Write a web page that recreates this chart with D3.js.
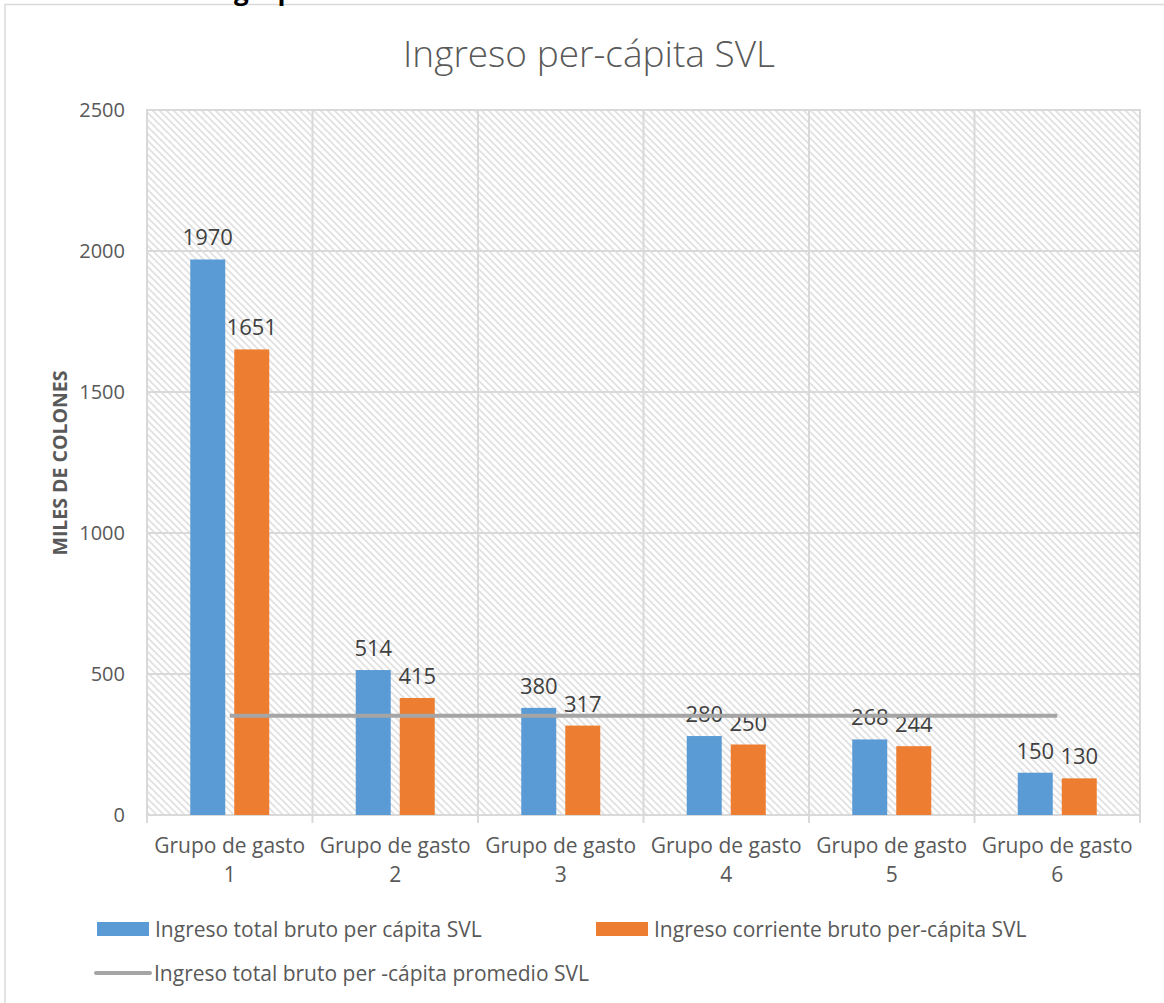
<!DOCTYPE html>
<html>
<head>
<meta charset="utf-8">
<script src="https://cdn.jsdelivr.net/npm/d3@7"></script>
<style>
  body { margin: 0; background: #fff; }
  svg { display: block; font-family: 'Open Sans', sans-serif; }
</style>
</head>
<body>
<svg id="chart" width="1164" height="1003"></svg>
<script>
// data
const categories = ['Grupo de gasto 1', 'Grupo de gasto 2', 'Grupo de gasto 3', 'Grupo de gasto 4', 'Grupo de gasto 5', 'Grupo de gasto 6'];
const seriesNames = ['Ingreso total bruto per cápita SVL', 'Ingreso corriente bruto per-cápita SVL'];
const totalBruto = [1970, 514, 380, 280, 268, 150];
const corrienteBruto = [1651, 415, 317, 250, 244, 130];
const promedioName = 'Ingreso total bruto per -cápita promedio SVL';
const promedio = [352, 352, 352, 352, 352, 352];
const yTicks = [0, 500, 1000, 1500, 2000, 2500];

const colors = ['#5B9BD5', '#ED7D31'];
const lineColor = '#A5A5A5';
const gridColor = '#D9D9D9';
const textColor = '#595959';

const svg = d3.select('#chart');
const plot = {left: 147, right: 1140, top: 110, bottom: 815};

// hatch pattern
const defs = svg.append('defs');
defs.append('pattern')
    .attr('id', 'hatch')
    .attr('patternUnits', 'userSpaceOnUse')
    .attr('width', 7).attr('height', 7)
    .call(p => {
        p.append('rect').attr('width', 7).attr('height', 7).attr('fill', '#fff');
        p.append('path')
            .attr('d', 'M-1,-1 L8,8 M-1,6 L1,8 M6,-1 L8,1')
            .attr('stroke', '#E0E0E0')
            .attr('stroke-width', 1.6);
    });

// outer border + cut-off heading above
svg.append('rect')
    .attr('x', 5).attr('y', 4.5)
    .attr('width', 1170).attr('height', 1010)
    .attr('fill', 'none')
    .attr('stroke', gridColor)
    .attr('stroke-width', 1.5);

svg.append('text')
    .attr('x', 234).attr('y', 0)
    .attr('font-size', 26).attr('font-weight', 'bold')
    .attr('fill', '#000')
    .text('grupo');

const x = d3.scaleBand()
    .domain(categories)
    .range([plot.left, plot.right]);

const y = d3.scaleLinear()
    .domain([0, 2500])
    .range([plot.bottom, plot.top]);

const xs = d3.scaleBand()
    .domain([0, 1])
    .range([-39.5, 39.5])
    .paddingInner(9 / 44);

// plot background
svg.append('rect')
    .attr('x', plot.left).attr('y', plot.top)
    .attr('width', plot.right - plot.left)
    .attr('height', plot.bottom - plot.top)
    .attr('fill', 'url(#hatch)')
    .attr('stroke', gridColor)
    .attr('stroke-width', 2);

// horizontal grid
svg.append('g')
    .selectAll('line')
    .data(yTicks)
    .join('line')
    .attr('x1', plot.left).attr('x2', plot.right)
    .attr('y1', d => y(d)).attr('y2', d => y(d))
    .attr('stroke', gridColor)
    .attr('stroke-width', 2);

// vertical category dividers (+ tick below axis)
svg.append('g')
    .selectAll('line')
    .data(categories.concat(['end']))
    .join('line')
    .attr('x1', (d, i) => plot.left + i * x.step())
    .attr('x2', (d, i) => plot.left + i * x.step())
    .attr('y1', plot.top).attr('y2', plot.bottom + 8)
    .attr('stroke', gridColor)
    .attr('stroke-width', 2);

// y tick labels
svg.append('g')
    .selectAll('text')
    .data(yTicks)
    .join('text')
    .attr('x', 125)
    .attr('y', d => y(d) + 7)
    .attr('text-anchor', 'end')
    .attr('font-size', 20)
    .attr('fill', textColor)
    .text(d => d);

// y axis title
svg.append('text')
    .attr('transform', 'translate(67,463) rotate(-90)')
    .attr('text-anchor', 'middle')
    .attr('font-size', 19.5)
    .attr('font-weight', 'bold')
    .attr('fill', textColor)
    .text('MILES DE COLONES');

// bars
const series = [totalBruto, corrienteBruto];
const groups = svg.append('g')
    .selectAll('g')
    .data(categories)
    .join('g')
    .attr('transform', d => `translate(${x(d) + x.bandwidth() / 2},0)`);

groups.selectAll('rect')
    .data((d, i) => series.map((s, k) => ({k, v: s[i]})))
    .join('rect')
    .attr('x', d => xs(d.k))
    .attr('width', xs.bandwidth())
    .attr('y', d => y(d.v))
    .attr('height', d => y(0) - y(d.v))
    .attr('fill', d => colors[d.k]);

groups.selectAll('text.lbl')
    .data((d, i) => series.map((s, k) => ({k, v: s[i]})))
    .join('text')
    .attr('class', 'lbl')
    .attr('x', d => xs(d.k) + xs.bandwidth() / 2)
    .attr('y', d => y(d.v) - 14)
    .attr('text-anchor', 'middle')
    .attr('font-size', 22)
    .attr('fill', '#404040')
    .text(d => d.v);

// average line
svg.append('path')
    .datum(promedio)
    .attr('d', d3.line()
        .x((d, i) => x(categories[i]) + x.bandwidth() / 2)
        .y(d => y(d)))
    .attr('fill', 'none')
    .attr('stroke', lineColor)
    .attr('stroke-width', 4);

// x labels
const xl = svg.append('g')
    .selectAll('text')
    .data(categories)
    .join('text')
    .attr('x', d => x(d) + x.bandwidth() / 2)
    .attr('y', 853)
    .attr('text-anchor', 'middle')
    .attr('font-size', 21)
    .attr('fill', textColor);
xl.append('tspan')
    .attr('x', d => x(d) + x.bandwidth() / 2)
    .text(d => d.replace(/ \d+$/, ''));
xl.append('tspan')
    .attr('x', d => x(d) + x.bandwidth() / 2)
    .attr('dy', 29)
    .text(d => d.match(/\d+$/)[0]);

// legend
const legend = [
    {name: seriesNames[0], type: 'bar', color: colors[0], x: 97, y: 929},
    {name: seriesNames[1], type: 'bar', color: colors[1], x: 596, y: 929},
    {name: promedioName, type: 'line', color: lineColor, x: 96, y: 973}
];
const lg = svg.append('g')
    .selectAll('g')
    .data(legend)
    .join('g')
    .attr('transform', d => `translate(${d.x},${d.y})`);
lg.filter(d => d.type === 'bar')
    .append('rect')
    .attr('x', 0).attr('y', -7)
    .attr('width', 52).attr('height', 14)
    .attr('fill', d => d.color);
lg.filter(d => d.type === 'line')
    .append('line')
    .attr('x1', 0).attr('x2', 54)
    .attr('stroke', d => d.color)
    .attr('stroke-width', 4)
    .attr('stroke-linecap', 'round');
lg.append('text')
    .attr('x', 58)
    .attr('y', 7.5)
    .attr('font-size', 21)
    .attr('fill', textColor)
    .text(d => d.name);

// title
svg.append('text')
    .attr('x', 589).attr('y', 67)
    .attr('text-anchor', 'middle')
    .attr('font-size', 37)
    .attr('font-weight', 300)
    .attr('fill', textColor)
    .text('Ingreso per-cápita SVL');
</script>
</body>
</html>
